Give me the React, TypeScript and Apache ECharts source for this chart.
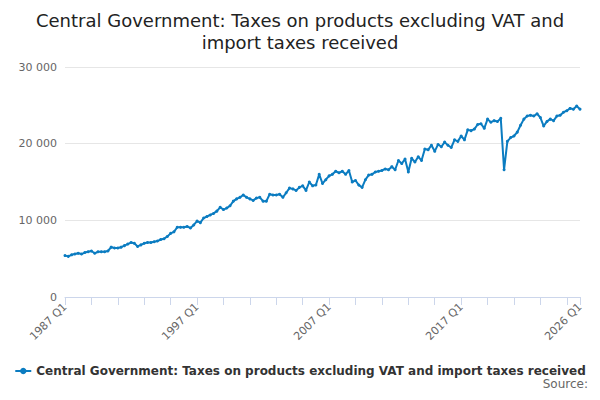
import React, { useEffect, useRef } from 'react';
import * as echarts from 'echarts';

const startYear = 1987;
const endYear = 2026;

// quarterly values, thousands, 1987 Q1 .. 2026 Q1
const yearly: number[][] = [
    [5.4, 5.3, 5.5, 5.6],
    [5.7, 5.6, 5.8, 5.9],
    [6.0, 5.7, 5.9, 5.9],
    [5.9, 6.0, 6.5, 6.4],
    [6.4, 6.5, 6.7, 6.9],
    [7.1, 7.0, 6.6, 6.8],
    [7.0, 7.1, 7.1, 7.2],
    [7.3, 7.5, 7.6, 7.9],
    [8.3, 8.5, 9.1, 9.1],
    [9.1, 9.2, 9.0, 9.4],
    [9.9, 9.7, 10.3, 10.5],
    [10.7, 10.9, 11.2, 11.7],
    [11.4, 11.6, 11.9, 12.5],
    [12.8, 13.0, 13.3, 13.0],
    [12.8, 12.6, 12.9, 13.0],
    [12.5, 12.5, 13.4, 13.3],
    [13.3, 13.4, 13.0, 13.6],
    [14.2, 14.1, 13.9, 14.3],
    [14.5, 13.9, 15.0, 14.5],
    [14.6, 16.0, 14.8, 15.3],
    [15.8, 16.0, 16.4, 16.2],
    [16.4, 16.0, 16.5, 15.0],
    [15.2, 14.6, 14.3, 15.3],
    [15.9, 16.0, 16.3, 16.4],
    [16.5, 16.7, 16.6, 17.0],
    [16.6, 17.8, 17.4, 18.0],
    [16.3, 18.1, 17.6, 18.3],
    [17.8, 19.3, 19.2, 19.8],
    [19.0, 19.9, 19.6, 20.2],
    [19.8, 19.5, 20.5, 20.3],
    [21.0, 20.5, 21.8, 21.7],
    [21.9, 22.5, 22.6, 22.0],
    [23.2, 22.8, 23.0, 22.9],
    [23.3, 16.6, 20.3, 20.8],
    [21.0, 21.5, 22.4, 23.2],
    [23.6, 23.7, 23.6, 23.9],
    [23.4, 22.3, 22.9, 23.2],
    [23.0, 23.6, 23.7, 24.1],
    [24.3, 24.6, 24.5, 24.9],
    [24.5],
];

const categories: string[] = [];
const values: number[] = [];
yearly.forEach((qs, i) => {
    qs.forEach((v, q) => {
        categories.push(`${startYear + i} Q${q + 1}`);
        values.push(Math.round(v * 1000));
    });
});

const shownLabels = ['1987 Q1', '1997 Q1', '2007 Q1', '2017 Q1', `${endYear} Q1`];
const seriesName = 'Central Government: Taxes on products excluding VAT and import taxes received';

const App: React.FC = () => {
    const chartRef = useRef<HTMLDivElement>(null);

    useEffect(() => {
        const chart = echarts.init(chartRef.current!, undefined, { renderer: 'svg' });
        const font = 'DejaVu Sans, sans-serif';
        chart.setOption({
            animation: false,
            textStyle: { fontFamily: font },
            title: {
                text: 'Central Government: Taxes on products excluding VAT and\nimport taxes received',
                left: 'center',
                top: 4,
                textStyle: { fontSize: 18, fontWeight: 'normal', color: '#222', lineHeight: 22, fontFamily: font },
            },
            grid: { left: 65, right: 20, top: 67, bottom: 103 },
            xAxis: {
                type: 'category',
                data: categories,
                boundaryGap: false,
                axisLine: { lineStyle: { color: '#ccd6eb' } },
                axisTick: { interval: 7, length: 8, lineStyle: { color: '#ccd6eb' } },
                axisLabel: {
                    interval: (i: number, v: string) => shownLabels.includes(v),
                    rotate: 45,
                    color: '#666',
                    fontSize: 11,
                    fontFamily: font,
                    showMaxLabel: true,
                },
            },
            yAxis: {
                type: 'value',
                min: 0,
                max: 30000,
                interval: 10000,
                axisLabel: {
                    color: '#666',
                    fontSize: 11,
                    fontFamily: font,
                    formatter: (v: number) => (v >= 1000 ? v.toLocaleString('en-US').replace(/,/g, ' ') : String(v)),
                },
                splitLine: { lineStyle: { color: '#e6e6e6' } },
            },
            legend: {
                bottom: 18,
                left: 'center',
                itemWidth: 16,
                itemHeight: 8,
                itemGap: 4,
                textStyle: { fontWeight: 'bold', fontSize: 12, color: '#333', fontFamily: font },
                data: [seriesName],
            },
            graphic: [
                {
                    type: 'text',
                    right: 12,
                    bottom: 10,
                    style: { text: 'Source:', fontSize: 12, fill: '#666', fontFamily: font },
                },
            ],
            series: [
                {
                    name: seriesName,
                    type: 'line',
                    data: values,
                    color: '#0b7cc1',
                    lineStyle: { width: 2 },
                    symbol: 'circle',
                    symbolSize: 3,
                    showSymbol: true,
                    showAllSymbol: true,
                },
            ],
        });
        return () => chart.dispose();
    }, []);

    return <div ref={chartRef} style={{ width: 600, height: 400, margin: -8 }} />;
};

export default App;
